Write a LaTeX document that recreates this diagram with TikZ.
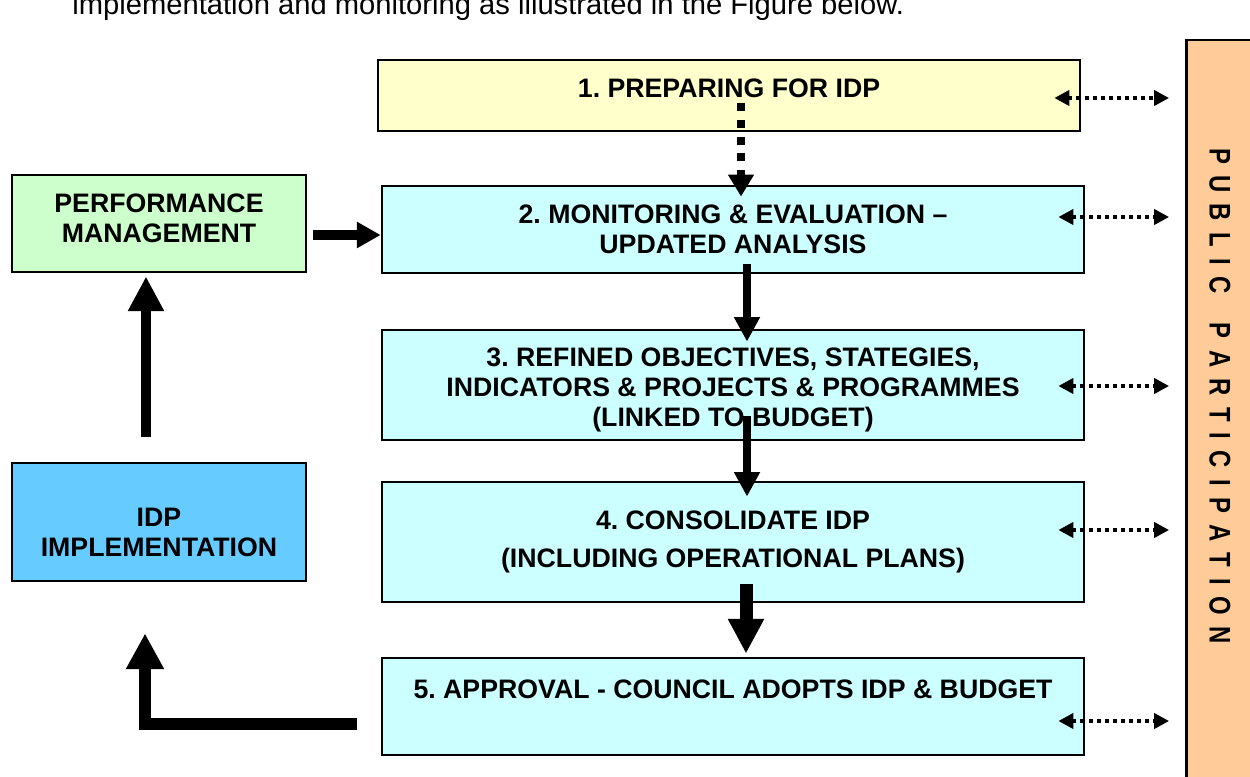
\documentclass[tikz,border=0pt]{standalone}
\usepackage{fontspec}
\setmainfont{Liberation Sans}
\usepackage{xcolor}
\usepackage{tikz}
\usetikzlibrary{positioning,calc,arrows.meta}
\frenchspacing

\definecolor{prepyellow}{HTML}{FFFFCC}
\definecolor{stepcyan}{HTML}{CCFFFF}
\definecolor{perfgreen}{HTML}{CCFFCC}
\definecolor{implblue}{HTML}{66CCFF}
\definecolor{pporange}{HTML}{FFCC99}

\tikzset{
    stepbox/.style={draw, line width=1.6pt, align=center, inner sep=0pt,
        font=\fontsize{15.2}{17}\selectfont\bfseries},
    bigarrow/.style={line width=4.2pt, -{Triangle[width=14pt,length=14pt]}},
    dotarrow/.style={line width=4.5pt, dash pattern=on 4.5pt off 5pt,
        -{Triangle[width=14pt,length=12.5pt]}},
    pparrow/.style={line width=2.6pt, dash pattern=on 2.3pt off 2.3pt,
        {Triangle[width=8.5pt,length=8.5pt]}-{Triangle[width=8.5pt,length=8.5pt]}}
}

\begin{document}
\begin{tikzpicture}[x=0.02cm, y=-0.02cm]
    \useasboundingbox (0,0) rectangle (1250,777);

    % Text above the figure (cut off)
    \node[anchor=base west, inner sep=0pt, font=\fontsize{16.6}{18}\selectfont] (intro) at (72,15)
        {implementation and monitoring as illustrated in the Figure below.};

    % Public participation
    \node[draw, line width=1.6pt, fill=pporange, minimum width=1.5cm, minimum height=15.2cm] (pp) at (1224,420) {};
    \node[rotate=-90, font=\fontsize{17}{19}\selectfont\bfseries] (pptext) at (1220,396)
        {\scalebox{0.8}[1]{\spaceskip=8pt P U B L I C\hspace{21pt}P A R T I C I P A T I O N}};

    % Steps
    \node[stepbox, fill=prepyellow, minimum width=14.04cm, minimum height=1.42cm] (b1) at (729,95.5)
        {1. PREPARING FOR IDP\\[-9pt]\mbox{}};
    \node[stepbox, fill=stepcyan, minimum width=14.04cm, minimum height=1.74cm] (b2) at (733,229.5)
        {2. MONITORING \& EVALUATION --\\UPDATED ANALYSIS};
    \node[stepbox, fill=stepcyan, minimum width=14.04cm, minimum height=2.2cm] (b3) at (733,385)
        {\mbox{}\\[-1pt]3. REFINED OBJECTIVES, STATEGIES,\\INDICATORS \& PROJECTS \& PROGRAMMES\\(LINKED TO BUDGET)};
    \node[stepbox, fill=stepcyan, minimum width=14.04cm, minimum height=2.4cm] (b4) at (733,542)
        {4. CONSOLIDATE IDP\\[4.5pt](INCLUDING OPERATIONAL PLANS)};
    \node[stepbox, fill=stepcyan, minimum width=14.04cm, minimum height=1.94cm] (b5) at (733,706.5)
        {5. APPROVAL - COUNCIL ADOPTS IDP \& BUDGET\\[3pt]\mbox{}};

    % Left side
    \node[stepbox, fill=perfgreen, minimum width=5.88cm, minimum height=1.94cm] (perf) at (159,223.5)
        {PERFORMANCE\\MANAGEMENT\\[-11.4pt]\mbox{}};
    \node[stepbox, fill=implblue, minimum width=5.88cm, minimum height=2.36cm] (impl) at (159,522)
        {\mbox{}\\[5.4pt]IDP\\IMPLEMENTATION};

    % Flow arrows
    \draw[dotarrow] ($(b1.south)+(12,-29)$) -- ($(b2.north)+(8,12)$);
    \draw[bigarrow, line width=5.7pt, -{Triangle[width=14.2pt,length=13.6pt]}]
        ($(perf.east)+(6,11.5)$) -- ($(b2.west)+(0,5.5)$);
    \draw[bigarrow] ($(b2.south)+(14,-10)$) -- ($(b3.north)+(14,13)$);
    \draw[bigarrow] ($(b3.south)+(14,-25)$) -- ($(b4.north)+(14,16)$);
    \draw[bigarrow, line width=7.4pt, -{Triangle[width=19.3pt,length=19.8pt]}]
        ($(b4.south)+(13,-19)$) -- ($(b5.north)+(13,-3)$);
    \draw[bigarrow, line width=6.2pt, -{Triangle[width=19.3pt,length=19.8pt]}]
        ($(impl.north)+(-13,-25)$) -- ($(perf.south)+(-13,3)$);
    \draw[bigarrow, line width=6.8pt, line join=miter, -{Triangle[width=20.4pt,length=20.4pt]}]
        ($(b5.west)+(-24,17.5)$) -| ($(impl.south)+(-14,51)$);

    % Links to public participation
    \foreach \b/\y in {b1/98, b2/217, b3/386, b4/530, b5/721}
        \draw[pparrow] ($(\b.east |- 0,\y)+(-27,0)$) -- ($(pp.west |- 0,\y)+(-16,0)$);
\end{tikzpicture}
\end{document}
